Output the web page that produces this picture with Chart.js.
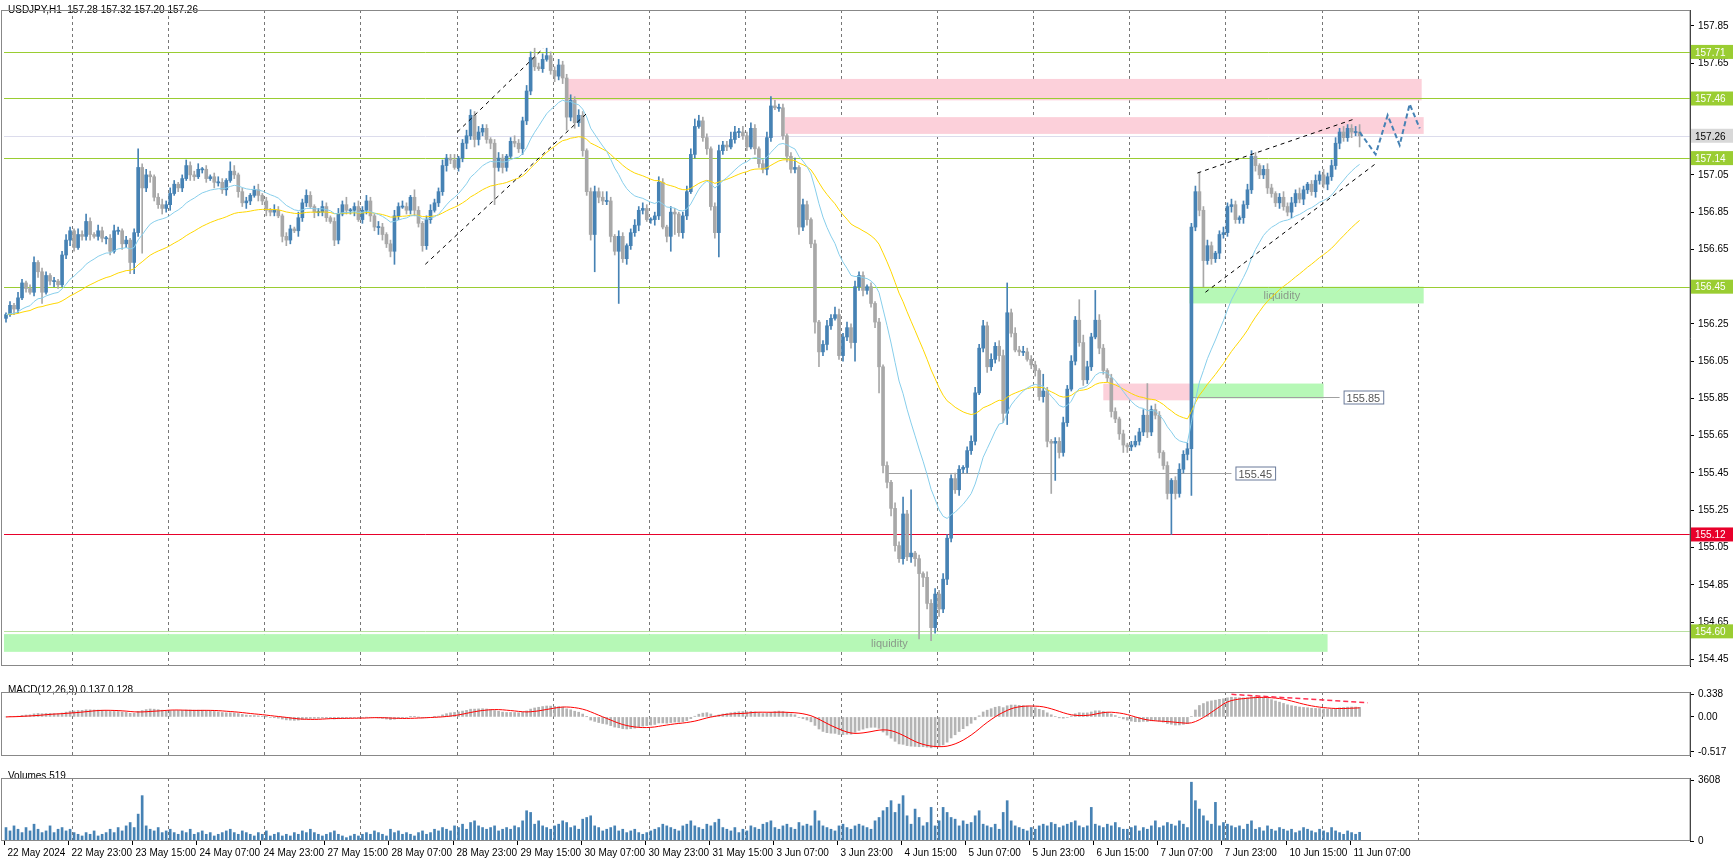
<!DOCTYPE html>
<html><head><meta charset="utf-8">
<script src="https://cdn.jsdelivr.net/npm/chart.js@4.4.1/dist/chart.umd.min.js"></script>
<style>
html,body{margin:0;padding:0;background:#fff;width:1733px;height:862px;overflow:hidden;font-family:"Liberation Sans",Arial,sans-serif}
.p{position:absolute;left:0;width:1733px}
</style></head><body>
<div class="p" style="top:0;height:676px"><canvas id="c1"></canvas></div>
<div class="p" style="top:682px;height:84px"><canvas id="c2"></canvas></div>
<div class="p" style="top:768px;height:94px"><canvas id="c3"></canvas></div>
<script>
// ---- DATA ----
const closes=[
156.30,156.35,156.33,156.39,156.47,156.44,156.42,156.58,156.53,156.42,
156.51,156.48,156.48,156.46,156.62,156.70,156.75,156.66,156.73,156.72,
156.80,156.73,156.72,156.75,156.71,156.71,156.64,156.75,156.75,156.68,
156.70,156.58,156.74,157.09,156.98,157.05,157.04,156.93,156.89,156.87,
156.89,156.95,157.00,156.98,157.03,157.10,157.05,157.04,157.08,157.08,
157.03,157.04,157.01,157.01,156.97,157.02,157.07,157.05,156.96,156.90,
156.91,156.94,156.97,156.94,156.91,156.86,156.85,156.86,156.83,156.72,
156.70,156.76,156.75,156.82,156.90,156.94,156.88,156.85,156.85,156.88,
156.82,156.80,156.70,156.84,156.89,156.86,156.86,156.88,156.81,156.86,
156.91,156.83,156.77,156.77,156.73,156.68,156.64,156.83,156.88,156.88,
156.86,156.93,156.86,156.79,156.67,156.81,156.86,156.90,156.96,157.10,
157.14,157.13,157.09,157.14,157.22,157.26,157.37,157.24,157.28,157.30,
157.24,157.22,157.09,157.14,157.09,157.15,157.23,157.22,157.19,157.34,
157.50,157.68,157.63,157.62,157.67,157.69,157.61,157.58,157.64,157.57,
157.36,157.45,157.33,157.37,157.18,156.96,156.73,156.96,156.93,156.91,
156.91,156.72,156.64,156.72,156.60,156.67,156.74,156.78,156.86,156.87,
156.81,156.81,156.83,157.01,156.77,156.72,156.85,156.84,156.74,156.83,
156.96,157.16,157.31,157.34,157.25,157.19,156.88,156.74,157.18,157.21,
157.20,157.24,157.28,157.28,157.26,157.20,157.30,157.19,157.11,157.08,
157.25,157.42,157.41,157.41,157.26,157.15,157.08,157.09,156.77,156.89,
156.81,156.68,156.26,156.10,156.14,156.24,156.28,156.30,156.08,156.18,
156.23,156.15,156.45,156.51,156.43,156.45,156.36,156.26,156.02,155.49,
155.40,155.26,155.06,154.99,155.23,155.00,155.02,154.99,154.91,154.89,
154.75,154.62,154.80,154.72,154.88,155.10,155.42,155.36,155.47,155.48,
155.57,155.62,155.88,156.12,156.24,156.02,156.06,156.13,156.08,155.77,
156.31,156.20,156.11,156.10,156.10,156.06,156.03,156.00,155.86,155.89,
155.62,155.61,155.62,155.56,155.72,155.90,156.05,156.27,156.15,155.95,
156.02,156.18,156.27,156.12,156.00,155.96,155.78,155.74,155.66,155.60,
155.59,155.60,155.62,155.67,155.76,155.67,155.79,155.76,155.56,155.49,
155.34,155.41,155.34,155.47,155.55,155.58,156.77,156.96,156.86,156.59,
156.67,156.60,156.63,156.73,156.74,156.88,156.89,156.81,156.82,156.89,
156.97,157.15,157.10,157.05,157.08,156.98,156.95,156.90,156.93,156.88,
156.85,156.90,156.95,156.92,156.97,157.00,156.96,157.02,157.05,157.00,
157.04,157.10,157.22,157.28,157.25,157.30,157.28,157.28,157.26];
const firstOpen=156.28;
// wick lengths in hundredths (base-36 digits)
const upWick=("1213212312 2121232132 4213212321 212a232123 2321232231 2123215312 2123121321 2213232123 2123241232 3213212323 2142123223 2231233232 2123212322 3352342232 2323212323 5213212323 2123213212 3343221232 2432323212 3532212513 2121232432 3232212121 21329 2y121 3232322321 2332323233 g232322219 21223232b4 32g3212212 1232 3h2321 2123232 3a2 3212323212 3321232123 2323212323 233232234").replace(/\s/g,'');
const lowWick=("2132121236 1232123212 2312232123 266 2z23223 2312213212 2132231232 3213232213 3213221322 2132122312 2324323 721 2232322122 3212232432 23k2321223 2221212323 7232323k32 232s232232 1232138b23 21212323d2 2123221322 3212232242 3268232123 23a23223e4 3432323 4z5 3734232232 3221232235 6212212323 3rk3221223 2213223234 3212232232 3m3223p23e 2323223223 2232232232 2322322322 322322326").replace(/\s/g,'');
// volumes in hundreds (base-36 digits)
const volumes=("86975 86a75 69578 67543 5463457586 9b8gr97685 6754657456 4534567546 5435463453 4354657543 4564323434 5465437564 5435645768 7698a7bc98 7896787 98c ihac987 9ac b89 7def986 7896756754 5678a98769 ac987a9bd8 7685769 87a bc879a87b9 a9ic987 69a 879a987cei koh mrfaje9 bk9ckhed9c abfia98a7h oc98768 79a 9ba89abc98 9ka98a9b87 7896879c89 ba9ca8zojf can9ba9897 ac78697687 6756876576 586546545").replace(/\s/g,'');
const tickLabels=["22 May 2024","22 May 23:00","23 May 15:00","24 May 07:00","24 May 23:00","27 May 15:00","28 May 07:00","28 May 23:00","29 May 15:00","30 May 07:00","30 May 23:00","31 May 15:00","3 Jun 07:00","3 Jun 23:00","4 Jun 15:00","5 Jun 07:00","5 Jun 23:00","6 Jun 15:00","7 Jun 07:00","7 Jun 23:00","10 Jun 15:00","11 Jun 07:00"];
const tickEvery=16;
const midnights=[17,41,65,89,113,137,161,185,209,233,257,281,305,329,353];
const slots=421;
const priceTicks=[154.45,154.65,154.85,155.05,155.25,155.45,155.65,155.85,156.05,156.25,156.45,156.65,156.85,157.05,157.25,157.45,157.65,157.85];
const levels=[{p:157.71,c:'#9acd32'},{p:157.46,c:'#9acd32'},{p:157.14,c:'#9acd32'},{p:156.45,c:'#9acd32'},{p:154.60,c:'#b8e0a0'},{p:155.12,c:'#e8002a'},{p:157.26,c:'#dcdcec'}];
const levelBoxes=[{p:157.71,bg:'#9acd32',fg:'#fff'},{p:157.46,bg:'#9acd32',fg:'#fff'},{p:157.26,bg:'#d8d8d8',fg:'#000'},{p:157.14,bg:'#9acd32',fg:'#fff'},{p:156.45,bg:'#9acd32',fg:'#fff'},{p:155.12,bg:'#e8002a',fg:'#fff'},{p:154.60,bg:'#9acd32',fg:'#fff'}];
const zones=[
 {i0:140,i1:353.5,p0:157.45,p1:157.565,c:'#fcd0da'},
 {i0:194.5,i1:354,p0:157.27,p1:157.36,c:'#fcd0da'},
 {i0:274,i1:296,p0:155.84,p1:155.93,c:'#fcd0da'},
 {i0:295.5,i1:354,p0:156.36,p1:156.45,c:'#b6f8b6',t:'liquidity',ti:314},
 {i0:296,i1:329,p0:155.85,p1:155.93,c:'#b6f8b6'},
 {i0:-0.5,i1:330,p0:154.49,p1:154.585,c:'#b6f8b6',t:'liquidity',ti:216}];
const rays=[{i0:220,i1:306,p:155.45,t:'155.45'},{i0:296,i1:333,p:155.86,t:'155.85'}];
const channels=[[112.7,157.28,134.2,157.73],[104.7,156.57,145.5,157.39],[297.5,157.06,336.7,157.35],[299.5,156.42,342,157.11]];
const projI=[338,342,345,348,350.5,353];
const projP=[157.28,157.16,157.37,157.21,157.43,157.30];
// ---- derived ----
const N=closes.length;
const opens=closes.map((c,i)=>i?closes[i-1]:firstOpen);
const hi=closes.map((c,i)=>Math.max(c,opens[i])+parseInt(upWick[i]||'1',36)/100);
const lo=closes.map((c,i)=>Math.min(c,opens[i])-parseInt(lowWick[i]||'1',36)/100);
const vol=closes.map((c,i)=>i===N-1?519:parseInt(volumes[i]||'5',36)*100);
function ema(a,n){const k=2/(n+1);let r=[],e=a[0];a.forEach((v,i)=>{e=i?v*k+e*(1-k):v;r.push(e)});return r}
const ma20=ema(closes,20), ma50=ema(closes,50);
const e12=ema(closes,12),e26=ema(closes,26);
const macd=e12.map((v,i)=>v-e26[i]);
const sig=macd.map((v,i)=>{const s=macd.slice(Math.max(0,i-8),i+1);return s.reduce((a,b)=>a+b,0)/s.length});
const labels=Array.from({length:slots},(_,i)=>String(i));
const up=closes.map((c,i)=>c>=opens[i]);
const UPC='#4682b4',DNC='#a8a8a8';
Chart.defaults.font.family='"Liberation Sans",Arial,sans-serif';
Chart.defaults.font.size=10;
Chart.defaults.color='#000';
Chart.defaults.animation=false;

function xScale(){return {type:'category',labels,offset:true,display:false,grid:{display:false}}}
function yFit(s){s.width=43}
function frameAndDays(ch,ctx){
 const a=ch.chartArea,x=ch.scales.x;
 ctx.save();ctx.strokeStyle='#777';ctx.setLineDash([3,3]);ctx.lineWidth=1;
 midnights.forEach(m=>{const px=Math.round(x.getPixelForValue(m)-2)+0.5;ctx.beginPath();ctx.moveTo(px,a.top);ctx.lineTo(px,a.bottom);ctx.stroke()});
 ctx.restore();
}
function frame(ch,ctx){const a=ch.chartArea;ctx.save();ctx.strokeStyle='#888';ctx.lineWidth=1;ctx.strokeRect(1.5,a.top+0.5,a.right-1.5,a.bottom-a.top-1);ctx.restore()}

const pricePlugin={id:'pp',
 beforeDatasetsDraw(ch){const ctx=ch.ctx,x=ch.scales.x,y=ch.scales.y,a=ch.chartArea;
  frameAndDays(ch,ctx);
  ctx.save();
  zones.forEach(z=>{const x0=x.getPixelForValue(z.i0),x1=x.getPixelForValue(z.i1);const y0=y.getPixelForValue(z.p1),y1=y.getPixelForValue(z.p0);ctx.fillStyle=z.c;ctx.fillRect(x0,y0,x1-x0,y1-y0);
   if(z.t){ctx.fillStyle='#8a9a8a';ctx.font='11px "Liberation Sans",Arial';ctx.textAlign='left';ctx.textBaseline='middle';ctx.fillText(z.t,x.getPixelForValue(z.ti),(y0+y1)/2+1)}});
  levels.forEach(l=>{const py=Math.round(y.getPixelForValue(l.p))+0.5;ctx.strokeStyle=l.c;ctx.lineWidth=1;ctx.beginPath();ctx.moveTo(a.left,py);ctx.lineTo(a.right,py);ctx.stroke()});
  rays.forEach(r=>{const py=Math.round(y.getPixelForValue(r.p))+0.5,x0=x.getPixelForValue(r.i0),x1=x.getPixelForValue(r.i1);ctx.strokeStyle='#a0a0a0';ctx.beginPath();ctx.moveTo(x0,py);ctx.lineTo(x1,py);ctx.stroke();
   ctx.font='11px "Liberation Sans",Arial';const w=ctx.measureText(r.t).width+6;ctx.fillStyle='#fff';ctx.fillRect(x1+4,py-7,w,14);ctx.strokeStyle='#6a7a9a';ctx.strokeRect(x1+4.5,py-6.5,w,13);ctx.fillStyle='#555';ctx.textAlign='left';ctx.textBaseline='middle';ctx.fillText(r.t,x1+7,py+1)});
  ctx.restore();
 },
 afterDatasetsDraw(ch){const ctx=ch.ctx,x=ch.scales.x,y=ch.scales.y,a=ch.chartArea;
  ctx.save();ctx.strokeStyle='#000';ctx.setLineDash([4,4]);ctx.lineWidth=1;
  channels.forEach(c=>{ctx.beginPath();ctx.moveTo(x.getPixelForValue(c[0]),y.getPixelForValue(c[1]));ctx.lineTo(x.getPixelForValue(c[2]),y.getPixelForValue(c[3]));ctx.stroke()});
  ctx.setLineDash([]);
  levelBoxes.forEach(b=>{const py=y.getPixelForValue(b.p);ctx.fillStyle=b.bg;ctx.fillRect(a.right+1,py-7,42,14);ctx.fillStyle=b.fg;ctx.font='10px "Liberation Sans",Arial';ctx.textAlign='left';ctx.textBaseline='middle';ctx.fillText(b.p.toFixed(2),a.right+5,py+1)});
  ctx.fillStyle='#000';ctx.textAlign='left';ctx.textBaseline='top';ctx.fillText('USDJPY,H1  157.28 157.32 157.20 157.26',8,5);
  frame(ch,ctx);ctx.restore();}
};
new Chart(document.getElementById('c1'),{
 data:{labels,datasets:[
  {type:'bar',data:closes.map((c,i)=>[lo[i],hi[i]]),backgroundColor:up.map(u=>u?UPC:DNC),barThickness:1,grouped:false,order:3},
  {type:'bar',data:closes.map((c,i)=>{let a=Math.min(c,opens[i]),b=Math.max(c,opens[i]);if(b-a<0.006){b+=0.003;a-=0.003}return [a,b]}),backgroundColor:up.map(u=>u?UPC:DNC),barThickness:3,grouped:false,order:2},
  {type:'line',data:ma20,borderColor:'#87ceeb',borderWidth:1,pointRadius:0,order:1},
  {type:'line',data:ma50,borderColor:'#ffd700',borderWidth:1,pointRadius:0,order:1},
  {type:'scatter',showLine:true,data:projI.map((v,i)=>({x:v,y:projP[i]})),borderColor:UPC,borderWidth:2,borderDash:[5,3],pointRadius:0,order:0,xAxisID:'xl'}
 ]},
 options:{responsive:true,maintainAspectRatio:false,devicePixelRatio:1,layout:{padding:{left:4,right:0,top:0,bottom:0}},
  plugins:{legend:{display:false},tooltip:{enabled:false}},
  scales:{x:xScale(),
   xl:{type:'linear',display:false,min:-0.5,max:slots-0.5},
   y:{position:'right',min:154.414,max:157.935,afterFit:yFit,afterBuildTicks(s){s.ticks=priceTicks.map(v=>({value:v}))},
    ticks:{callback:v=>v.toFixed(2),padding:4,font:{size:10}},grid:{drawOnChartArea:false,tickLength:4,color:'#000'},border:{color:'#000'}}}},
 plugins:[pricePlugin]});

const macdPlugin={id:'mp',beforeDatasetsDraw(ch){frameAndDays(ch,ch.ctx)},
 afterDatasetsDraw(ch){const ctx=ch.ctx,x=ch.scales.x,y=ch.scales.y;ctx.save();
  ctx.strokeStyle='#ff3050';ctx.setLineDash([5,3]);ctx.lineWidth=1.5;ctx.beginPath();ctx.moveTo(x.getPixelForValue(306),y.getPixelForValue(0.335));ctx.lineTo(x.getPixelForValue(340),y.getPixelForValue(0.21));ctx.stroke();ctx.setLineDash([]);
  ctx.fillStyle='#000';ctx.textAlign='left';ctx.textBaseline='top';ctx.fillText('MACD(12,26,9) 0.137 0.128',8,3);frame(ch,ctx);ctx.restore()}};
new Chart(document.getElementById('c2'),{
 data:{labels,datasets:[
  {type:'line',data:sig,borderColor:'#ff0000',borderWidth:1,pointRadius:0,order:0},
  {type:'bar',data:macd,backgroundColor:'#b4b4b4',barThickness:2,order:1}]},
 options:{responsive:true,maintainAspectRatio:false,devicePixelRatio:1,layout:{padding:{left:4,right:0,top:0,bottom:0}},
  plugins:{legend:{display:false},tooltip:{enabled:false}},
  scales:{x:xScale(),y:{position:'right',min:-0.58,max:0.37,afterFit:yFit,afterBuildTicks(s){s.ticks=[{value:0.338},{value:0},{value:-0.517}]},
   ticks:{callback:v=>v===0?'0.00':v.toFixed(3),padding:4},grid:{drawOnChartArea:false,tickLength:4,color:'#000'},border:{color:'#000'}}}},
 plugins:[macdPlugin]});

const volPlugin={id:'vp',beforeDatasetsDraw(ch){frameAndDays(ch,ch.ctx)},
 afterDatasetsDraw(ch){const ctx=ch.ctx,x=ch.scales.x,a=ch.chartArea;ctx.save();
  ctx.fillStyle='#000';ctx.textAlign='left';ctx.textBaseline='top';ctx.fillText('Volumes 519',8,3);
  ctx.strokeStyle='#000';
  tickLabels.forEach((t,k)=>{const px=Math.round(x.getPixelForValue(k*tickEvery)-2)+0.5;ctx.beginPath();ctx.moveTo(px,a.bottom);ctx.lineTo(px,a.bottom+4);ctx.stroke();ctx.fillText(t,px+3,a.bottom+7)});
  frame(ch,ctx);ctx.restore()}};
new Chart(document.getElementById('c3'),{
 data:{labels,datasets:[{type:'bar',data:vol,backgroundColor:UPC,barThickness:2}]},
 options:{responsive:true,maintainAspectRatio:false,devicePixelRatio:1,layout:{padding:{left:4,right:0,top:0,bottom:21}},
  plugins:{legend:{display:false},tooltip:{enabled:false}},
  scales:{x:xScale(),y:{position:'right',min:0,max:3750,afterFit:yFit,afterBuildTicks(s){s.ticks=[{value:3608},{value:0}]},
   ticks:{padding:4,callback:v=>String(v)},grid:{drawOnChartArea:false,tickLength:4,color:'#000'},border:{color:'#000'}}}},
 plugins:[volPlugin]});
</script></body></html>
